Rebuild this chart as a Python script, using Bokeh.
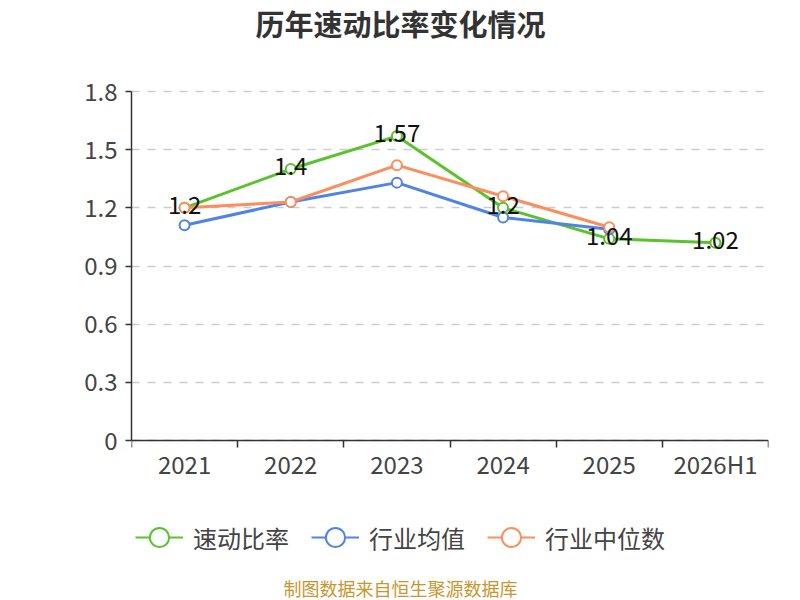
from bokeh.plotting import figure
from bokeh.models import ColumnDataSource, FixedTicker, Range1d, Legend, LegendItem, Label, LabelSet
from bokeh.core.properties import value
from bokeh.embed import file_html
from bokeh.resources import INLINE

years = ["2021", "2022", "2023", "2024", "2025", "2026H1"]
quick_ratio = [1.2, 1.4, 1.57, 1.2, 1.04, 1.02]
industry_avg = [1.11, 1.23, 1.33, 1.15, 1.09]
industry_median = [1.2, 1.23, 1.42, 1.26, 1.10]
quick_labels = ["1.2", "1.4", "1.57", "1.2", "1.04", "1.02"]
y_ticks = [0, 0.3, 0.6, 0.9, 1.2, 1.5, 1.8]
y_tick_labels = ["0", "0.3", "0.6", "0.9", "1.2", "1.5", "1.8"]

FONT = "Noto Sans CJK SC"
GREEN = "#5ac22c"
BLUE = "#5083e6"
ORANGE = "#fc8d5c"
AXIS = "#333333"
TXT = "#444444"

xpos = [i + 0.5 for i in range(len(years))]

# frame covers the whole height; value axis occupies the band 91..440 px
PX_PER_UNIT = 349 / 1.8
y_start = -160 / PX_PER_UNIT
y_end = 1.8 + 91 / PX_PER_UNIT

p = figure(frame_width=637, frame_height=600, output_backend="svg", toolbar_location=None,
           x_range=Range1d(0, len(years)), y_range=Range1d(y_start, y_end),
           min_border_left=131, min_border_right=32, min_border_top=0, min_border_bottom=0)
p.outline_line_color = None
p.background_fill_color = "white"
p.border_fill_color = "white"

# axes
p.xaxis.fixed_location = 0
p.xaxis.ticker = FixedTicker(ticks=xpos, minor_ticks=list(range(len(years) + 1)))
p.xaxis.major_label_overrides = {x: y for x, y in zip(xpos, years)}
p.xaxis.major_tick_line_color = None
p.xaxis.minor_tick_out = 7
p.xaxis.minor_tick_in = 0
p.xaxis.minor_tick_line_color = AXIS
p.xaxis.minor_tick_line_width = 1.5
p.xaxis.axis_line_color = AXIS
p.xaxis.axis_line_width = 1.5
p.xaxis.major_label_text_font = FONT
p.xaxis.major_label_text_font_size = "24px"
p.xaxis.major_label_text_color = TXT
p.xaxis.major_label_standoff = -2

p.yaxis.bounds = (0, 1.8)
p.yaxis.ticker = FixedTicker(ticks=y_ticks)
p.yaxis.major_label_overrides = {t: l for t, l in zip(y_ticks, y_tick_labels)}
p.yaxis.minor_tick_line_color = None
p.yaxis.major_tick_out = 6
p.yaxis.major_tick_in = 0
p.yaxis.major_tick_line_color = AXIS
p.yaxis.major_tick_line_width = 1.5
p.yaxis.axis_line_color = AXIS
p.yaxis.axis_line_width = 1.5
p.yaxis.major_label_text_font = FONT
p.yaxis.major_label_text_font_size = "24px"
p.yaxis.major_label_text_color = TXT
p.yaxis.major_label_standoff = 8

p.xgrid.grid_line_color = None
p.ygrid.grid_line_color = "#cccccc"
p.ygrid.grid_line_dash = "8 8"
p.ygrid.grid_line_width = 1.5

items = []
for name, vals, col in [("速动比率", quick_ratio, GREEN),
                        ("行业均值", industry_avg, BLUE),
                        ("行业中位数", industry_median, ORANGE)]:
    src = ColumnDataSource(dict(x=xpos[:len(vals)], y=vals))
    p.line("x", "y", source=src, line_color=col, line_width=3)
    p.scatter("x", "y", source=src, size=10, fill_color="white", line_color=col, line_width=2)
    # legend-only glyphs (no data drawn)
    lg_src = ColumnDataSource(dict(x=[float("nan")], y=[float("nan")]))
    ll = p.line("x", "y", source=lg_src, line_color=col, line_width=2)
    lc = p.scatter("x", "y", source=lg_src, size=21, fill_color="white", line_color=col, line_width=2)
    items.append(LegendItem(label=name, renderers=[ll, lc]))

lab_src = ColumnDataSource(dict(x=xpos, y=quick_ratio, t=quick_labels))
p.add_layout(LabelSet(x="x", y="y", text="t", source=lab_src, text_align="center",
                      text_baseline="middle", y_offset=3, text_font=value(FONT),
                      text_font_size="24px", text_color="#111111"))

legend = Legend(items=items, orientation="horizontal", location=(4, 36),
                label_text_font=FONT, label_text_font_size="24px", label_text_color=TXT,
                glyph_width=48, glyph_height=54, spacing=22, label_standoff=10,
                border_line_color=None, background_fill_alpha=0, padding=0, margin=0)
p.add_layout(legend, "center")

p.add_layout(Label(x=269, y=578, x_units="screen", y_units="screen",
                   text="历年速动比率变化情况", text_align="center", text_baseline="middle",
                   text_font=FONT, text_font_size="29px", text_font_style="bold",
                   text_color="#333333"))

p.add_layout(Label(x=269, y=13, x_units="screen", y_units="screen",
                   text="制图数据来自恒生聚源数据库", text_align="center", text_baseline="middle",
                   text_font=FONT, text_font_size="18px", text_color="#c8962e"))

open("out.html", "w").write(file_html(p, INLINE))
